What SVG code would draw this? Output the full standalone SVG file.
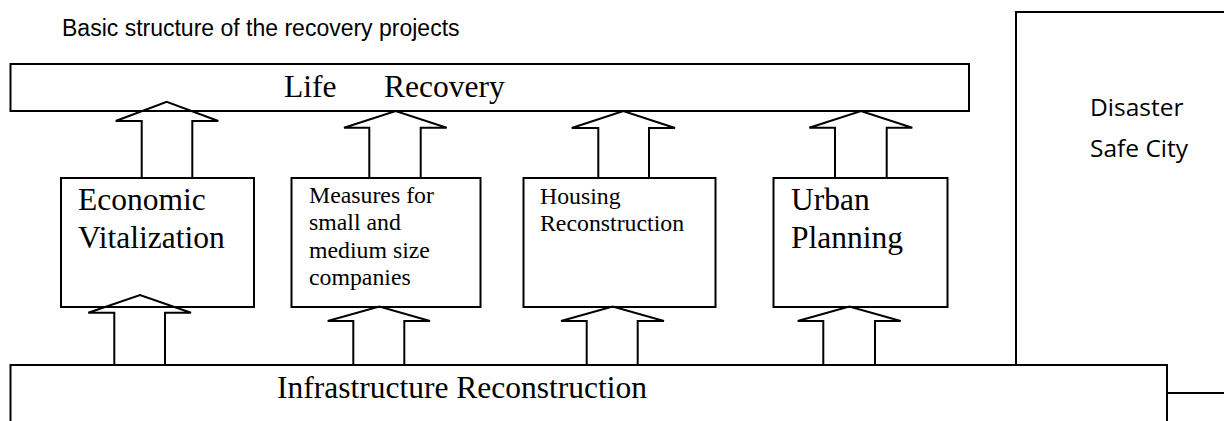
<svg xmlns="http://www.w3.org/2000/svg" width="1224" height="421" viewBox="0 0 1224 421">
<style>
.box{fill:#fff;stroke:#000;stroke-width:2}
.arr{fill:none;stroke:#000;stroke-width:2;stroke-linejoin:miter}
.serif{font-family:"Liberation Serif","Times New Roman",serif;fill:#000}
.big{font-size:31.5px}
.small{font-size:23.8px}
.title{font-family:"Liberation Sans",Arial,sans-serif;font-size:23px;fill:#000}
.cal{font-family:"Open Sans","Noto Sans",sans-serif;font-size:24.5px;fill:#000}
</style>
<rect width="1224" height="421" fill="#fff"/>
<text class="title" x="62" y="36">Basic structure of the recovery projects</text>

<g id="disaster-safe-city">
<rect class="box" x="1016" y="12" width="240" height="381"/>
<text class="cal" x="1090" y="116">Disaster</text>
<text class="cal" x="1090" y="157">Safe City</text>
</g>

<g id="life-recovery">
<rect class="box" x="10.5" y="64" width="958.5" height="47"/>
<text class="serif big" x="284" y="97">Life</text>
<text class="serif big" x="384" y="97">Recovery</text>
</g>

<g id="infrastructure-reconstruction">
<rect class="box" x="10.5" y="365" width="1156.5" height="80"/>
<text class="serif big" x="277" y="397.5">Infrastructure Reconstruction</text>
</g>

<g id="economic-vitalization">
<rect class="box" x="61" y="178" width="193" height="129"/>
<text class="serif big" x="78" y="209.5">Economic</text>
<text class="serif big" x="78" y="248">Vitalization</text>
</g>

<g id="measures-smes">
<rect class="box" x="291.5" y="178" width="189" height="129"/>
<text class="serif small" x="309" y="202.5">Measures for</text>
<text class="serif small" x="309" y="230">small and</text>
<text class="serif small" x="309" y="257.5">medium size</text>
<text class="serif small" x="309" y="285">companies</text>
</g>

<g id="housing-reconstruction">
<rect class="box" x="523.5" y="178" width="192" height="129"/>
<text class="serif small" x="540" y="203.5">Housing</text>
<text class="serif small" x="540" y="231">Reconstruction</text>
</g>

<g id="urban-planning">
<rect class="box" x="773.5" y="178" width="174" height="129"/>
<text class="serif big" x="791" y="210">Urban</text>
<text class="serif big" x="791" y="247.5">Planning</text>
</g>

<g id="connectors">
<polyline class="arr" points="141.7,178 141.7,121 115.7,121 166.7,101.7 218.3,121 192.3,121 192.3,178"/>
<polyline class="arr" points="369.3,178 369.3,127.7 344,127.7 395.7,111 446.7,127.7 420.7,127.7 420.7,178"/>
<polyline class="arr" points="598.3,178 598.3,128 571.7,128 623.3,111 675,128 649,128 649,178"/>
<polyline class="arr" points="835,178 835,127.7 809.3,127.7 861,111 912.3,127.7 886.7,127.7 886.7,178"/>

<polyline class="arr" points="114.3,365 114.3,312.7 88.3,312.7 140,295 191,312.7 165,312.7 165,365"/>
<polyline class="arr" points="353.3,365 353.3,321 327.7,321 379.3,306.5 430,321 404.3,321 404.3,365"/>
<polyline class="arr" points="586.7,365 586.7,321 561,321 612.7,306.5 664,321 637.7,321 637.7,365"/>
<polyline class="arr" points="823.3,365 823.3,321 797.7,321 849.3,306.5 900.7,321 875,321 875,365"/>
</g>
</svg>
